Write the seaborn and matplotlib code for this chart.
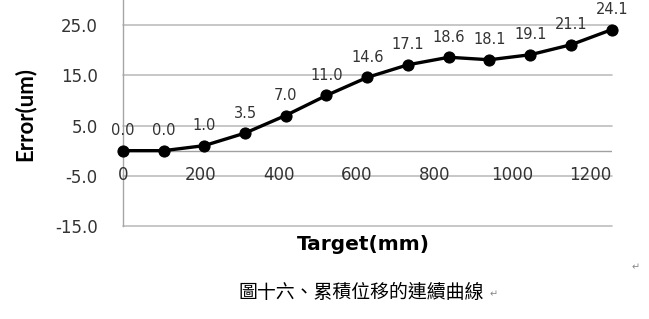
import matplotlib
matplotlib.use("Agg")
import matplotlib.pyplot as plt
import seaborn as sns
import pandas as pd

# Data
target_mm = [0, 105, 209, 314, 418, 523, 628, 732, 837, 941, 1046, 1151, 1255]
error_um = [0.0, 0.0, 1.0, 3.5, 7.0, 11.0, 14.6, 17.1, 18.6, 18.1, 19.1, 21.1, 24.1]
x_ticks = [0, 200, 400, 600, 800, 1000, 1200]
y_ticks = [-15.0, -5.0, 5.0, 15.0, 25.0]
caption = "圖十六、累積位移的連續曲線"

df = pd.DataFrame({"Target": target_mm, "Error": error_um})

sns.set_theme(style="white")
plt.rcParams['font.family'] = ['DejaVu Sans']

W, H = 649, 319
fig = plt.figure(figsize=(W / 100, H / 100), dpi=100)
ax = fig.add_axes([122.7 / W, 1 - 226 / H, (611.7 - 122.7) / W, 226 / H])

sns.lineplot(data=df, x="Target", y="Error", ax=ax, color="black", linewidth=2.4,
             marker="o", markersize=8, markeredgecolor="black",
             markerfacecolor="black", zorder=5, clip_on=False)

ax.set_xlim(0, max(target_mm))
ax.set_ylim(-15, 30)

ax.set_yticks(y_ticks)
ax.set_yticklabels([f"{v:.1f}" for v in y_ticks])
ax.set_xticks(x_ticks)
ax.set_xticklabels([str(v) for v in x_ticks])

grid_c = "#bdbdbd"
for v in y_ticks:
    ax.axhline(v, color=grid_c, linewidth=1.2, zorder=1, clip_on=False)

for s in ["top", "right", "bottom"]:
    ax.spines[s].set_visible(False)
ax.spines["left"].set_color("#a6a6a6")
ax.spines["left"].set_linewidth(1.0)
ax.axhline(0, color="#a0a0a0", linewidth=1.0, zorder=2)

ax.tick_params(axis="y", length=0, pad=18, labelsize=12, labelcolor="#333333")
ax.tick_params(axis="x", length=0, labelsize=12, labelcolor="#333333")
# x tick labels sit just below the zero line (axis crosses at 0)
for lbl in ax.get_xticklabels():
    lbl.set_visible(False)
for v in x_ticks:
    ax.annotate(str(v), xy=(v, 0), xytext=(0, -24), textcoords="offset pixels",
                ha="center", va="center", fontsize=12, color="#333333")

ax.set_xlabel("")
ax.set_ylabel("")

for x, y in zip(target_mm, error_um):
    ax.annotate(f"{y:.1f}", xy=(x, y), xytext=(0, 20), textcoords="offset pixels",
                ha="center", va="center", fontsize=10.5, color="#333333", zorder=6)

fig.text(25 / W, 1 - 114 / H, "Error(um)", rotation=90, ha="center", va="center",
         fontsize=16, fontweight="bold", family="Lato", color="black")
fig.text(363 / W, 1 - 244 / H, "Target(mm)", ha="center", va="center",
         fontsize=14.5, fontweight="bold", family="DejaVu Sans", color="black")

fig.text(361 / W, 1 - 293 / H, caption, ha="center", va="center",
         fontsize=13.6, family=["Noto Sans CJK TC", "DejaVu Sans"], color="black")
fig.text(494 / W, 1 - 294 / H, "↵", ha="center", va="center",
         fontsize=7, family="DejaVu Sans", color="#888888")
fig.text(636 / W, 1 - 267 / H, "↵", ha="center", va="center",
         fontsize=7, family="DejaVu Sans", color="#888888")

fig.savefig("out.png", dpi=100)
